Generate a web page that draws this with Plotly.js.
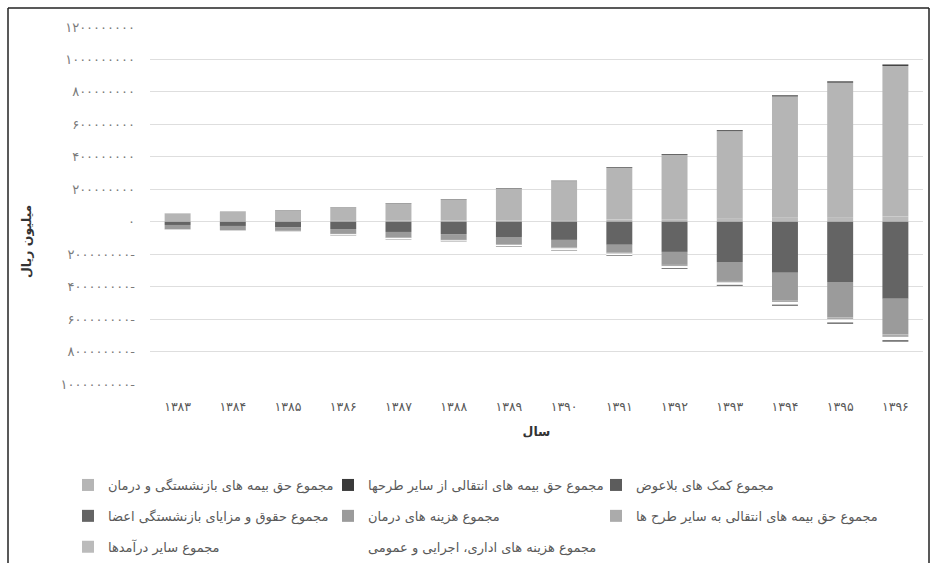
<!DOCTYPE html>
<html>
<head>
<meta charset="utf-8">
<script src="https://cdn.plot.ly/plotly-3.0.1.min.js"></script>
<style>html,body{margin:0;padding:0;background:#fff;}#chart{width:931px;height:563px;}</style>
</head>
<body>
<div id="chart"></div>
<script>
// Categories (Persian years)
var years = ['۱۳۸۳','۱۳۸۴','۱۳۸۵','۱۳۸۶','۱۳۸۷','۱۳۸۸','۱۳۸۹','۱۳۹۰','۱۳۹۱','۱۳۹۲','۱۳۹۳','۱۳۹۴','۱۳۹۵','۱۳۹۶'];

// Positive series (million rial)
var otherIncome  = [3000000,3000000,4000000,5000000,6000000,7000000,9000000,11000000,13000000,15000000,19000000,24000000,28000000,33000000];
var premiums     = [46000000,59000000,67000000,84000000,107000000,131000000,195000000,239000000,319000000,396000000,539000000,748000000,829000000,927000000];
var transferIn   = [1000000,1000000,1000000,1000000,2000000,2000000,3000000,3000000,4000000,5000000,6000000,7000000,8000000,9000000];

// Negative series (million rial)
var pensions     = [-20000000,-26000000,-33000000,-45000000,-63000000,-76000000,-94000000,-112000000,-142000000,-186000000,-248000000,-315000000,-371000000,-475000000];
var treatment    = [-25000000,-25000000,-23000000,-30000000,-35000000,-36000000,-45000000,-48000000,-49000000,-80000000,-117000000,-168000000,-218000000,-219000000];
var transferOut  = [-2000000,-2000000,-2000000,-3000000,-3000000,-4000000,-5000000,-5000000,-6000000,-8000000,-10000000,-12000000,-14000000,-16000000];
var adminCosts   = [-3000000,-3000000,-4000000,-5000000,-6000000,-7000000,-8000000,-9000000,-10000000,-12000000,-14000000,-16000000,-18000000,-20000000];
var grants       = [-1000000,-1000000,-1000000,-2000000,-2000000,-2000000,-3000000,-3000000,-4000000,-5000000,-6000000,-7000000,-8000000,-9000000];

// Y tick values and labels
var yTickVals = [-1000000000,-800000000,-600000000,-400000000,-200000000,0,200000000,400000000,600000000,800000000,1000000000,1200000000];
var yTickText = ['۱۰۰۰۰۰۰۰۰۰-','۸۰۰۰۰۰۰۰۰-','۶۰۰۰۰۰۰۰۰-','۴۰۰۰۰۰۰۰۰-','۲۰۰۰۰۰۰۰۰-','۰','۲۰۰۰۰۰۰۰۰','۴۰۰۰۰۰۰۰۰','۶۰۰۰۰۰۰۰۰','۸۰۰۰۰۰۰۰۰','۱۰۰۰۰۰۰۰۰۰','۱۲۰۰۰۰۰۰۰۰'];

// Series names
var nPremiums   = 'مجموع حق بیمه های بازنشستگی و درمان';
var nTransferIn = 'مجموع حق بیمه های انتقالی از سایر طرحها';
var nGrants     = 'مجموع کمک های بلاعوض';
var nPensions   = 'مجموع حقوق و مزایای بازنشستگی اعضا';
var nTreatment  = 'مجموع هزینه های درمان';
var nTransferOut= 'مجموع حق بیمه های انتقالی به سایر طرح ها';
var nOther      = 'مجموع سایر درآمدها';
var nAdmin      = 'مجموع هزینه های اداری، اجرایی و عمومی';

var FONT = 'DejaVu Sans, Noto Sans, sans-serif';

function bar(name, y, color, legend, rank) {
  return {
    type: 'bar', name: name, x: years, y: y,
    marker: {color: color, line: {width: 0}},
    legend: legend, legendrank: rank, legendgroup: name,
    hoverinfo: 'skip'
  };
}

var data = [
  bar(nOther, otherIncome, '#bbbbbb', 'legend', 3),
  bar(nPremiums, premiums, '#b5b5b5', 'legend', 1),
  bar(nTransferIn, transferIn, '#3a3a3a', 'legend2', 1),
  bar(nPensions, pensions, '#646464', 'legend', 2),
  bar(nTreatment, treatment, '#9b9b9b', 'legend2', 2),
  bar(nTransferOut, transferOut, '#ababab', 'legend3', 2),
  bar(nAdmin, adminCosts, '#ffffff', 'legend2', 3),
  bar(nGrants, grants, '#5c5c5c', 'legend3', 1)
];

function leg(x) {
  return {
    orientation: 'v',
    xanchor: 'left', yanchor: 'top', x: x, y: -0.2409,
    font: {family: FONT, size: 13, color: '#595959'},
    bgcolor: 'rgba(0,0,0,0)', tracegroupgap: 11, itemwidth: 30,
    traceorder: 'grouped'
  };
}

var layout = {
  width: 931, height: 563,
  margin: {l: 150, r: 8, t: 27, b: 179, autoexpand: false},
  paper_bgcolor: '#ffffff', plot_bgcolor: '#ffffff',
  barmode: 'relative', bargap: 0.53,
  font: {family: FONT, color: '#595959'},
  showlegend: true,
  xaxis: {
    type: 'category', showgrid: false, zeroline: false, showline: false, ticks: '',
    automargin: false,
    tickfont: {family: FONT, size: 12.5, color: '#595959'},
    ticklabelstandoff: 13,
    title: {text: '<b>سال</b>', font: {family: FONT, size: 12.5, color: '#333333'}, standoff: 14}
  },
  yaxis: {
    range: [-1000000000, 1200000000],
    tickvals: yTickVals, ticktext: yTickText,
    automargin: false,
    showgrid: true, gridcolor: '#dedede', gridwidth: 1,
    zeroline: false, showline: false, ticks: '',
    tickfont: {family: FONT, size: 13, color: '#7a7a7a'},
    ticklabelstandoff: 14
  },
  legend: leg(-0.1061),
  legend2: leg(0.2303),
  legend3: leg(0.5770),
  annotations: [{
    text: '<b>میلیون ریال</b>', xref: 'paper', yref: 'paper',
    x: (26 - 150) / 773, y: (384 - 242) / 357, textangle: -90,
    xanchor: 'center', yanchor: 'middle',
    showarrow: false, font: {family: FONT, size: 12.5, color: '#333333'}
  }],
  shapes: [
    {type: 'line', xref: 'paper', yref: 'paper', x0: (8-150)/773, x1: (8-150)/773, y0: (384-8)/357, y1: (384-563)/357, line: {color: '#222', width: 1.5}},
    {type: 'line', xref: 'paper', yref: 'paper', x0: (8-150)/773, x1: (929-150)/773, y0: (384-8)/357, y1: (384-8)/357, line: {color: '#222', width: 1.5}},
    {type: 'line', xref: 'paper', yref: 'paper', x0: (929-150)/773, x1: (929-150)/773, y0: (384-8)/357, y1: (384-563)/357, line: {color: '#222', width: 1.5}}
  ]
};

Plotly.newPlot('chart', data, layout, {displayModeBar: false, staticPlot: true});
</script>
</body>
</html>
